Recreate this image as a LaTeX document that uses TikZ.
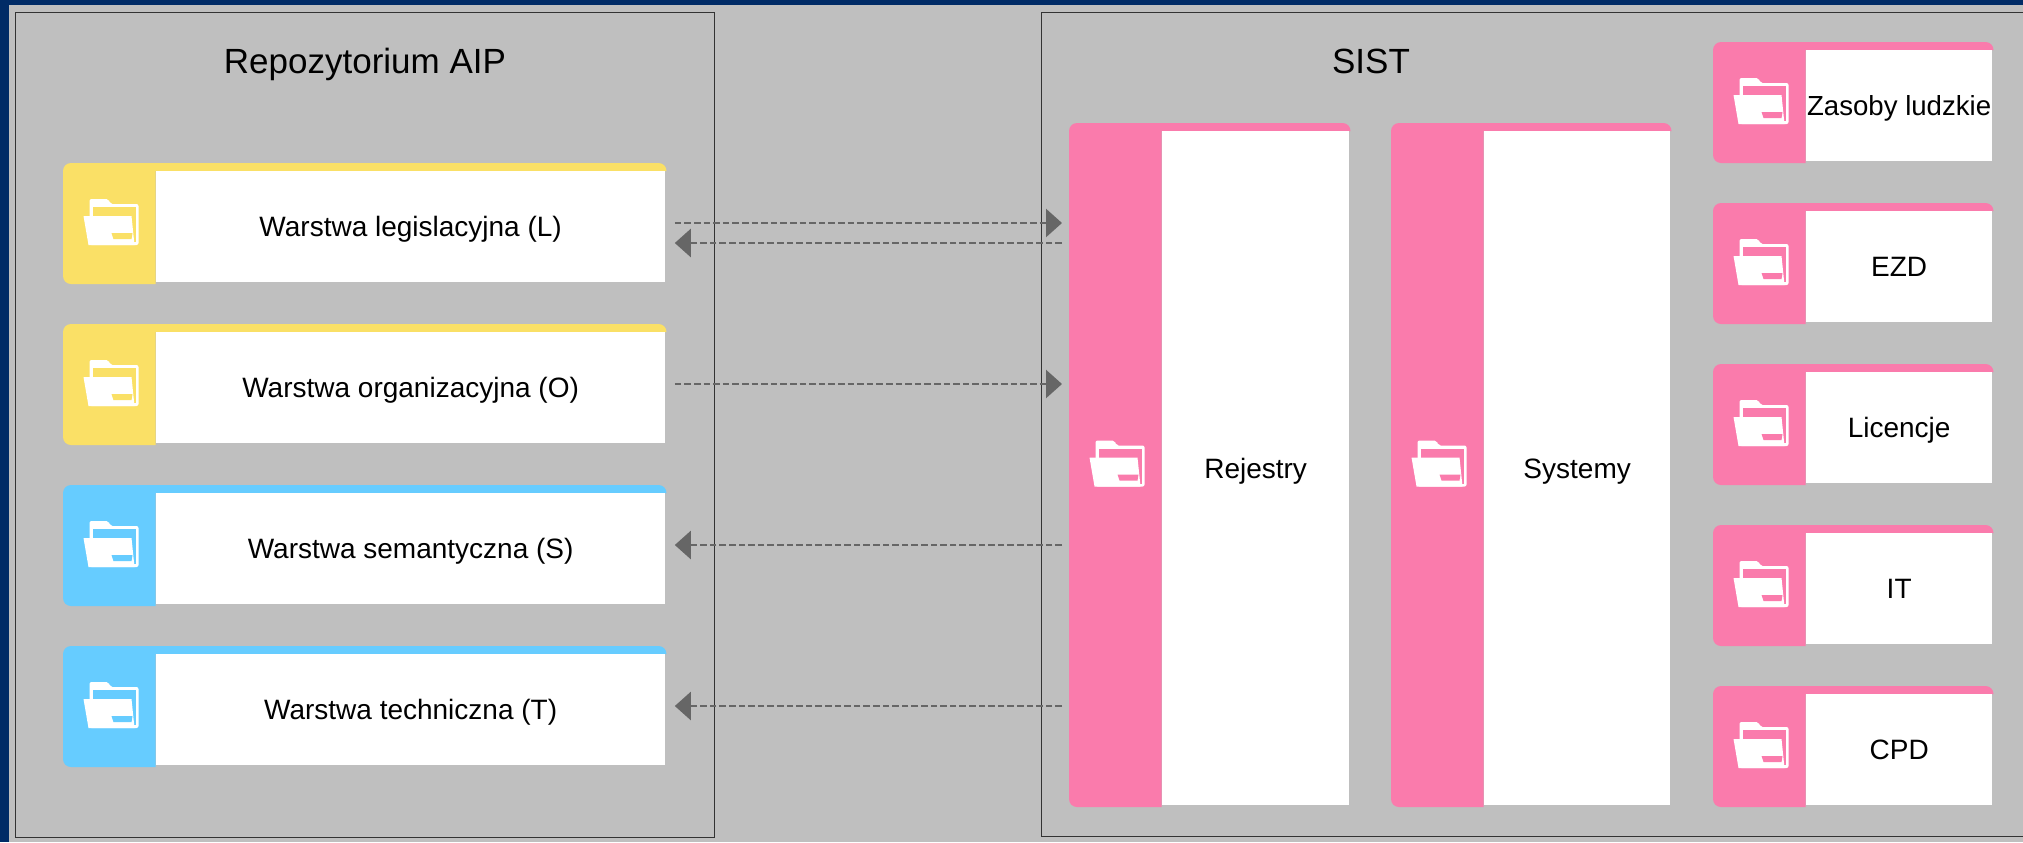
\documentclass[tikz,border=0pt]{standalone}
\usepackage{fontspec}
\setmainfont{Liberation Sans}
\usetikzlibrary{arrows.meta,positioning}
\definecolor{navy}{HTML}{002B66}
\definecolor{panel}{HTML}{BFBFBF}
\definecolor{frameline}{HTML}{333333}
\definecolor{flowgrey}{HTML}{666666}
\definecolor{yellowcard}{HTML}{FAE066}
\definecolor{bluecard}{HTML}{66CCFF}
\definecolor{pinkcard}{HTML}{FA7BAC}
\tikzset{frame/.style={draw=frameline,line width=0.5pt},
         title/.style={font=\fontsize{17.5}{20}\selectfont,inner sep=0pt,anchor=base},
         card text/.style={rectangle,fill=white,anchor=north west,inner sep=0pt,text height=10pt,text depth=0pt,font=\fontsize{14}{16}\selectfont},
         flow/.style={draw=flowgrey,line width=1.25pt,dash pattern=on 3.3pt off 1.5pt,-{Triangle[length=8pt,width=14pt]}},
         folder/.pic={
             \fill[white,rounded corners=1pt] (6,17) -- (6,0) -- (25,0) -- (27,5) -- (55,5) -- (55,46) -- (6,46) -- cycle;
             \fill[#1] (9,8) rectangle (52.5,43);
             \fill[white] (0,17) -- (48,17) -- (51,46) -- (5,46) -- cycle;
             \fill[#1] (28,34) -- (49,34) -- (48,40) -- (30,40) -- cycle;
         }
}
% name, left, top, width, height, colour, text
\newcommand{\card}[7]{
    \fill[#6] (#2,#3+#5) [rounded corners=4pt] -- (#2,#3) -- (#2+#4+1.5,#3) [sharp corners] -- (#2+#4+1.5,#3+8) -- (#2+92.5,#3+8) -- (#2+92.5,#3+#5) [rounded corners=4pt] -- cycle;
    \node[card text,minimum width={(#4-92.5)*0.5pt},minimum height={(#5-10)*0.5pt}] (#1) at (#2+92.5,#3+8) {#7};
    \pic at (#2+20.5,#3+#5/2-24.5) {folder=#6};
}

\begin{document}
\begin{tikzpicture}[x=0.5pt,y=-0.5pt]
\useasboundingbox (0,0) rectangle (2023,842);
\fill[navy] (0,0) rectangle (2023,842);
\fill[panel] (9,5) rectangle (2023,842);
\draw[frame] (15.5,12) rectangle (714,837);
\draw[frame] (2023,12) -- (1041,12) -- (1041,836) -- (2023,836);
\node[title] (repo) at (365,73) {Repozytorium AIP};
\node[title] (sist) at (1371,73) {SIST};

\card{warstwaL}{63}{163}{602}{121}{yellowcard}{Warstwa legislacyjna (L)}
\card{warstwaO}{63}{324}{602}{121}{yellowcard}{Warstwa organizacyjna (O)}
\card{warstwaS}{63}{485}{602}{121}{bluecard}{Warstwa semantyczna (S)}
\card{warstwaT}{63}{646}{602}{121}{bluecard}{Warstwa techniczna (T)}

\card{rejestry}{1069}{123}{280}{684}{pinkcard}{Rejestry}
\card{systemy}{1391}{123}{279}{684}{pinkcard}{Systemy}

\card{zasoby}{1713}{42}{279}{121}{pinkcard}{\fontsize{13.8}{16}\selectfont Zasoby ludzkie}
\card{ezd}{1713}{203}{279}{121}{pinkcard}{EZD}
\card{licencje}{1713}{364}{279}{121}{pinkcard}{Licencje}
\card{it}{1713}{525}{279}{121}{pinkcard}{IT}
\card{cpd}{1713}{686}{279}{121}{pinkcard}{CPD}

% connectors stop short of the cards
\coordinate (rejestryL1) at (1062,223);
\coordinate (rejestryL2) at (1062,243);
\coordinate (rejestryO) at (1062,384);
\coordinate (rejestryS) at (1062,545);
\coordinate (rejestryT) at (1062,706);
\draw[flow,shorten <=4.5pt] (warstwaL.east |- rejestryL1) -- (rejestryL1);
\draw[flow,shorten >=4.5pt] (rejestryL2) -- (warstwaL.east |- rejestryL2);
\draw[flow,shorten <=4.5pt] (warstwaO.east |- rejestryO) -- (rejestryO);
\draw[flow,shorten >=4.5pt] (rejestryS) -- (warstwaS.east |- rejestryS);
\draw[flow,shorten >=4.5pt] (rejestryT) -- (warstwaT.east |- rejestryT);
\end{tikzpicture}
\end{document}
